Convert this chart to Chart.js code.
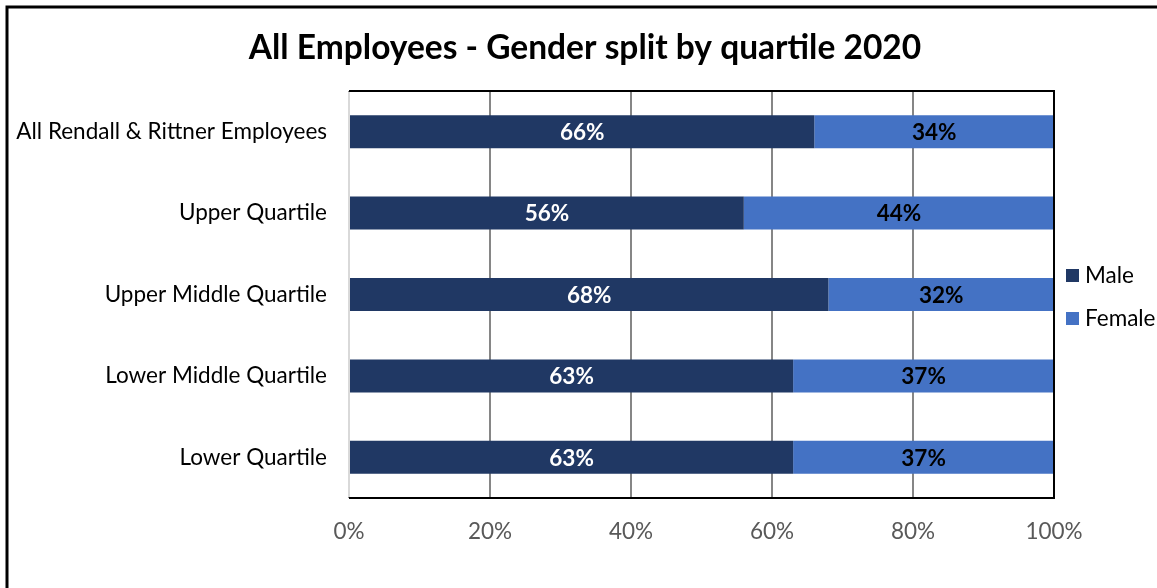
<!DOCTYPE html>
<html>
<head>
<meta charset="utf-8">
<script src="https://cdn.jsdelivr.net/npm/chart.js@4"></script>
<style>
html,body{margin:0;padding:0;background:#fff;}
#wrap{width:1157px;height:588px;position:relative;}
</style>
</head>
<body>
<div id="wrap"><canvas id="c" width="1157" height="588"></canvas></div>
<script>
const categories = ["All Rendall & Rittner Employees","Upper Quartile","Upper Middle Quartile","Lower Middle Quartile","Lower Quartile"];
const maleValues = [66,56,68,63,63];
const femaleValues = [34,44,32,37,37];
const seriesNames = ["Male","Female"];
const titleText = "All Employees - Gender split by quartile 2020";

const FONT = "Lato, 'Open Sans', sans-serif";
const colors = ["#203864","#4472C4"];
const labelColors = ["#ffffff","#000000"];

const framePlugin = {
  id:'frame',
  beforeDraw(chart){
    const ctx = chart.ctx;
    ctx.save();
    ctx.fillStyle='#fff';
    ctx.fillRect(0,0,chart.width,chart.height);
    ctx.strokeStyle='#000';
    ctx.lineWidth=3;
    ctx.beginPath();
    ctx.moveTo(7,chart.height+2);
    ctx.lineTo(7,7);
    ctx.lineTo(chart.width+2,7);
    ctx.stroke();
    // title
    ctx.fillStyle='#000';
    ctx.font="bold 33.5px "+FONT;
    ctx.textAlign='center';
    ctx.textBaseline='middle';
    ctx.fillText(titleText,585,48);
    ctx.restore();
  },
  afterDatasetsDraw(chart){
    const ctx = chart.ctx;
    const a = chart.chartArea;
    ctx.save();
    // data labels
    chart.data.datasets.forEach((ds,di)=>{
      const meta = chart.getDatasetMeta(di);
      meta.data.forEach((el,i)=>{
        const cx = (el.x + el.base)/2;
        ctx.fillStyle = labelColors[di];
        ctx.font = "bold 22.5px "+FONT;
        ctx.textAlign='center';
        ctx.textBaseline='middle';
        ctx.fillText(ds.data[i]+'%', cx, el.y+1);
      });
    });
    // frame top/right/bottom
    ctx.strokeStyle='#000';
    ctx.lineWidth=2;
    ctx.beginPath();
    ctx.moveTo(a.left,a.top);
    ctx.lineTo(a.right,a.top);
    ctx.lineTo(a.right,a.bottom);
    ctx.lineTo(a.left,a.bottom);
    ctx.stroke();
    ctx.strokeStyle='#d9d9d9';
    ctx.beginPath();
    ctx.moveTo(a.left,a.top+1);
    ctx.lineTo(a.left,a.bottom-1);
    ctx.stroke();
    // legend
    const ly=[275,318];
    chart.data.datasets.forEach((ds,di)=>{
      ctx.fillStyle=ds.backgroundColor;
      ctx.fillRect(1066,ly[di]-6,13,13);
      ctx.fillStyle='#000';
      ctx.font="22.5px "+FONT;
      ctx.textAlign='left';
      ctx.textBaseline='middle';
      ctx.fillText(ds.label,1085,ly[di]+1);
    });
    ctx.restore();
  }
};

new Chart(document.getElementById('c'),{
  type:'bar',
  data:{
    labels:categories,
    datasets:[
      {label:seriesNames[0],data:maleValues,backgroundColor:colors[0],barPercentage:0.405,categoryPercentage:1},
      {label:seriesNames[1],data:femaleValues,backgroundColor:colors[1],barPercentage:0.405,categoryPercentage:1}
    ]
  },
  options:{
    indexAxis:'y',
    responsive:false,
    animation:false,
    devicePixelRatio:1,
    layout:{padding:{top:91,right:103,left:0,bottom:0}},
    plugins:{legend:{display:false},title:{display:false},tooltip:{enabled:false}},
    scales:{
      x:{
        stacked:true,min:0,max:100,
        ticks:{stepSize:20,callback:v=>v+'%',color:'#595959',font:{family:FONT,size:22.5},padding:20},
        grid:{color:'#868686',lineWidth:2,drawTicks:false},
        border:{display:false},
        afterFit(s){s.height=90;}
      },
      y:{
        stacked:true,
        ticks:{color:'#000',font:{family:FONT,size:22.5},padding:22},
        grid:{display:false,drawTicks:false},
        border:{display:false},
        afterFit(s){s.width=349;}
      }
    }
  },
  plugins:[framePlugin]
});
</script>
</body>
</html>
